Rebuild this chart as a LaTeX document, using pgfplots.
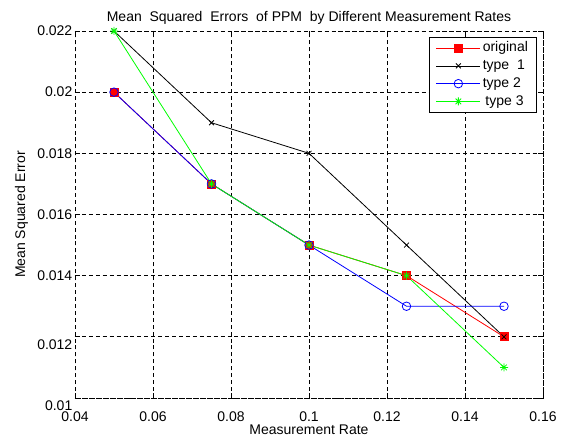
\documentclass[border=0pt]{standalone}
\usepackage{fontspec}
\setmainfont{Liberation Sans}
\usepackage{pgfplots}
\pgfplotsset{compat=1.18}
\pgfdeclareplotmark{matstar}{%
  \pgfpathmoveto{\pgfqpoint{0pt}{\pgfplotmarksize}}\pgfpathlineto{\pgfqpoint{0pt}{-\pgfplotmarksize}}%
  \pgfpathmoveto{\pgfqpoint{\pgfplotmarksize}{0pt}}\pgfpathlineto{\pgfqpoint{-\pgfplotmarksize}{0pt}}%
  \pgfpathmoveto{\pgfqpoint{0.7071\pgfplotmarksize}{0.7071\pgfplotmarksize}}\pgfpathlineto{\pgfqpoint{-0.7071\pgfplotmarksize}{-0.7071\pgfplotmarksize}}%
  \pgfpathmoveto{\pgfqpoint{0.7071\pgfplotmarksize}{-0.7071\pgfplotmarksize}}\pgfpathlineto{\pgfqpoint{-0.7071\pgfplotmarksize}{0.7071\pgfplotmarksize}}%
  \pgfusepathqstroke}
\definecolor{mred}{rgb}{1,0,0}
\definecolor{mblue}{rgb}{0,0,1}
\definecolor{mgreen}{rgb}{0,1,0}
\begin{document}
\begin{tikzpicture}
\begin{axis}[
  at={(56.25pt,33pt)}, anchor=south west,
  scale only axis, width=351pt, height=275.25pt,
  font=\fontsize{10.5}{12.6}\selectfont,
  /pgf/number format/assume math mode=true,
  xmin=0.04, xmax=0.16, ymin=0.01, ymax=0.022,
  xtick={0.04,0.06,0.08,0.1,0.12,0.14,0.16},
  xticklabels={0.04,0.06,0.08,0.1,0.12,0.14,0.16},
  ytick={0.01,0.012,0.014,0.016,0.018,0.02,0.022},
  yticklabels={\raisebox{-9.25pt}[0pt][0pt]{0.01},\raisebox{-9.75pt}[0pt][0pt]{0.012},0.014,0.016,0.018,0.02,0.022},
  scaled ticks=false,
  tick align=inside, major tick length=4pt,
  tick style={black, line width=0.5pt},
  axis line style={black, line width=0.5pt, dash pattern=on 3pt off 2.2pt},
  grid=major,
  major grid style={black, line width=0.5pt, dash pattern=on 3pt off 2.2pt},
  xticklabel style={yshift=-6.5pt},
  yticklabel style={xshift=1.5pt},
  title={Mean\ \ Squared\ \ Errors\ \ of PPM\ \ by Different Measurement Rates},
  title style={at={(rel axis cs:0.5,1)}, anchor=base, yshift=1pt, inner sep=0pt},
  xlabel={Measurement Rate},
  xlabel style={at={(rel axis cs:0.5,0)}, anchor=center, yshift=-24pt},
  ylabel={Mean Squared Error},
  legend style={at={(0.987,0.984)}, anchor=north east, draw=black, line width=0.5pt,
    fill=white, inner xsep=5pt, inner ysep=2.5pt, row sep=1.8pt,
    nodes={inner sep=1.5pt, text height=7pt, text depth=1.5pt},
    cells={anchor=west}},
  legend image code/.code={\draw[mark repeat=2,mark phase=2,#1] plot coordinates {(0pt,0pt) (16.5pt,0pt) (33pt,0pt)};},
]
\addplot[mred, line width=0.6pt, mark=square*, mark size=3pt, mark options={solid, fill=mred}]
  coordinates {(0.05,0.020) (0.075,0.017) (0.1,0.015) (0.125,0.014) (0.15,0.012)};
\addlegendentry{original}
\addplot[black, line width=0.6pt, mark=x, mark size=2.6pt, mark options={solid}]
  coordinates {(0.05,0.022) (0.075,0.019) (0.1,0.018) (0.125,0.015) (0.15,0.012)};
\addlegendentry{type\ \ 1}
\addplot[mblue, line width=0.6pt, mark=o, mark size=3.2pt, mark options={solid}]
  coordinates {(0.05,0.020) (0.075,0.017) (0.1,0.015) (0.125,0.013) (0.15,0.013)};
\addlegendentry{type 2}
\addplot[mgreen, line width=0.6pt, mark=matstar, mark size=3pt, mark options={solid}]
  coordinates {(0.05,0.022) (0.075,0.017) (0.1,0.015) (0.125,0.014) (0.15,0.011)};
\addlegendentry{\hspace{2pt}type 3}
\end{axis}
\pgfresetboundingbox
\useasboundingbox (0,0) rectangle (426pt,331.5pt);
\end{tikzpicture}
\end{document}
